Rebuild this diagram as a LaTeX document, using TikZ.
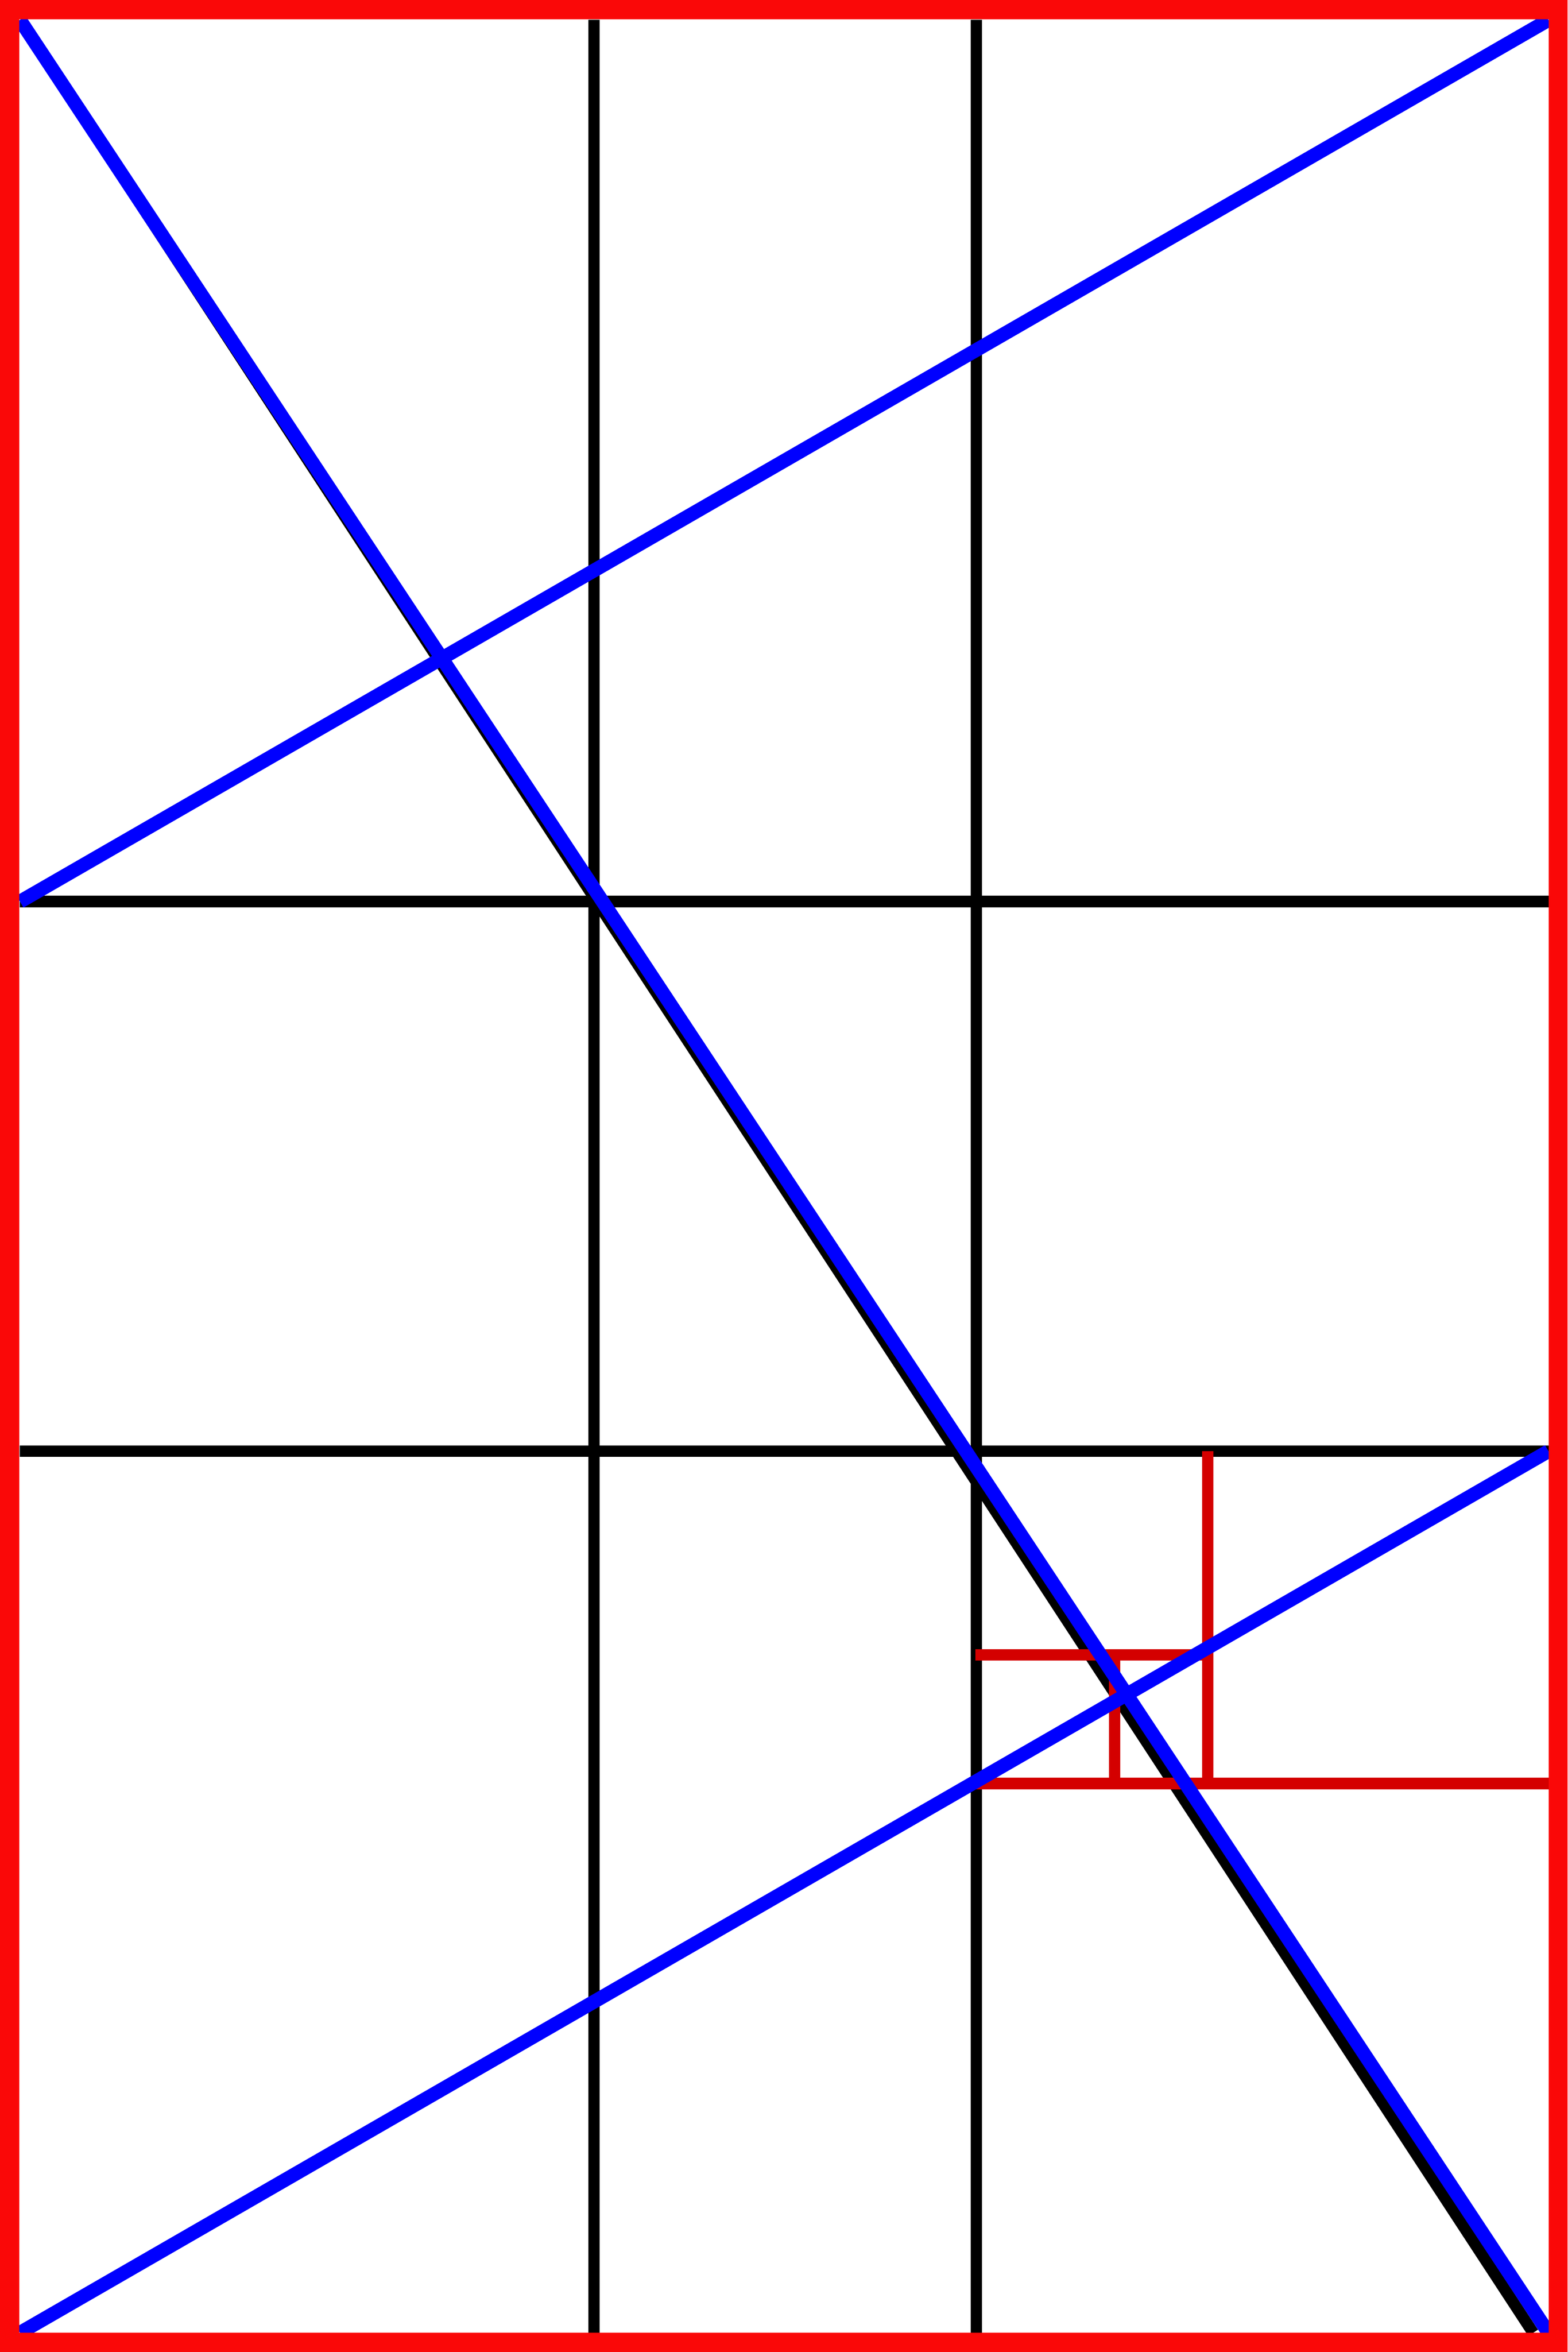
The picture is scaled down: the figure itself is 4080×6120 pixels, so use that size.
\documentclass[tikz,border=0pt]{standalone}
\usepackage{tikz}

\definecolor{framered}{RGB}{250,8,8}
\definecolor{spiralred}{RGB}{212,0,0}

\begin{document}
\begin{tikzpicture}[x=0.01cm,y=-0.01cm,
	gridline/.style={line width=0.30cm,black},
	diagline/.style={line width=0.36cm,blue},
	spiralline/.style={line width=0.30cm,spiralred},
	frameline/.style={line width=0.50cm,framered}]
\useasboundingbox (0,0) rectangle (4080,6120);
\fill[white] (0,0) rectangle (4080,6120);
% corners of the page
\coordinate (tl) at (52,52);
\coordinate (tr) at (4030,52);
\coordinate (bl) at (52,6070);
\coordinate (br) at (4030,6070);
% golden grid
\coordinate (v1top) at (1546,52);
\coordinate (v1bot) at (1546,6070);
\coordinate (v2top) at (2541,52);
\coordinate (v2bot) at (2541,6070);
\coordinate (h1left) at (52,2346);
\coordinate (h1right) at (4030,2346);
\coordinate (h2left) at (52,3776);
\coordinate (h2right) at (4030,3776);
\coordinate (diagend) at (3990,6070);
% spiral squares
\coordinate (s1a) at (2538,4306);
\coordinate (s1b) at (3143,4306);
\coordinate (s2a) at (3143,3776);
\coordinate (s2b) at (3143,4641);
\coordinate (s3a) at (2538,4641);
\coordinate (s3b) at (4030,4641);
\coordinate (s4a) at (2901,4306);
\coordinate (s4b) at (2901,4641);

\draw[gridline] (v1top) -- (v1bot);
\draw[gridline] (v2top) -- (v2bot);
\draw[gridline] (h1left) -- (h1right);
\draw[gridline] (h2left) -- (h2right);
\draw[gridline] (tl) -- (diagend);

\draw[spiralline] (s1a) -- (s1b);
\draw[spiralline] (s2a) -- (s2b);
\draw[spiralline] (s3a) -- (s3b);
\draw[spiralline] (s4a) -- (s4b);

\draw[diagline] (tl) -- (br);
\draw[diagline] (h1left) -- (tr);
\draw[diagline] (bl) -- (h2right);

\draw[frameline] (25,25) rectangle (4055,6095);
\end{tikzpicture}
\end{document}
